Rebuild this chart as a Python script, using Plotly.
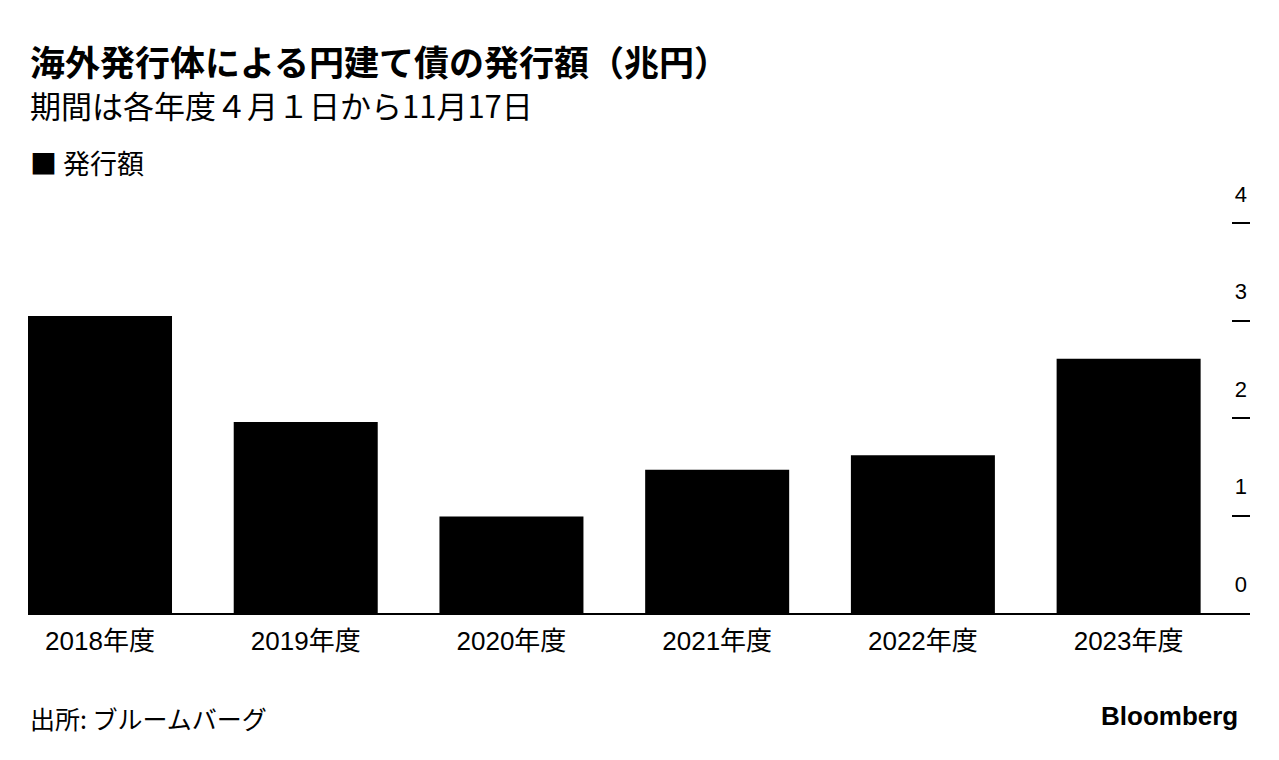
import plotly.graph_objects as go

categories = ["2018年度", "2019年度", "2020年度", "2021年度", "2022年度", "2023年度"]
values = [3.05, 1.96, 0.99, 1.47, 1.62, 2.61]
y_ticks = [0, 1, 2, 3, 4]

title = "海外発行体による円建て債の発行額（兆円）"
subtitle = "期間は各年度４月１日から11月17日"
legend_label = "発行額"
source = "出所: ブルームバーグ"

FONT = "Liberation Sans, Noto Sans CJK JP, sans-serif"
JFONT = "Noto Sans CJK JP, Liberation Sans, sans-serif"

# page body has an 8px margin; figure is drawn at offset (8, 8)
OFF = 8
W, H = 1279 - OFF, 760 - OFF
YMAX = 4.6
l, r, b = 20, 29, 147
t = int(round((613 - YMAX * 97.5) - OFF))
pw, ph = W - l - r, H - t - b

fig = go.Figure(go.Bar(
    x=list(range(len(categories))), y=values,
    marker=dict(color="#000000", line=dict(width=0)),
    width=0.7, showlegend=False, hoverinfo="skip",
))

fig.update_layout(
    width=W, height=H,
    margin=dict(l=l, r=r, t=t, b=b),
    paper_bgcolor="white", plot_bgcolor="white",
    font=dict(family=FONT, color="#000000"),
    xaxis=dict(
        tickmode="array", tickvals=list(range(len(categories))), ticktext=categories,
        range=[-0.35, 5.59], showline=True, linecolor="#000000", linewidth=1.5,
        showgrid=False, zeroline=False, ticks="",
        ticklabelstandoff=4,
        tickfont=dict(size=26, family=FONT, color="#000000"),
    ),
    yaxis=dict(
        side="right", range=[0, YMAX], tickvals=y_ticks,
        ticks="inside", ticklen=18, tickwidth=1.5, tickcolor="#000000",
        ticklabelposition="inside top", ticklabelshift=-13,
        showgrid=False, zeroline=False, showline=False,
        tickfont=dict(size=22, family=FONT, color="#000000"),
    ),
)

specs = [
    (title, 28, 60, 35, "left", JFONT, True),
    (subtitle, 28, 104, 31, "left", JFONT, False),
    ("■ " + legend_label, 28, 162, 27, "left", JFONT, False),
    (source, 28, 718, 25, "left", JFONT, False),
    ("Bloomberg", 1240, 716, 26, "right", FONT, True),
]
anns = []
for txt, px, py, size, anchor, fam, bold in specs:
    px, py = px - OFF, py - OFF
    anns.append(dict(
        text=("<b>%s</b>" % txt) if bold else txt,
        x=(px - l) / pw, y=(H - b - py) / ph, xref="paper", yref="paper",
        xanchor=anchor, yanchor="middle", showarrow=False,
        font=dict(size=size, family=fam, color="#000000"),
    ))
fig.update_layout(annotations=anns)

fig.write_html("out.html")
